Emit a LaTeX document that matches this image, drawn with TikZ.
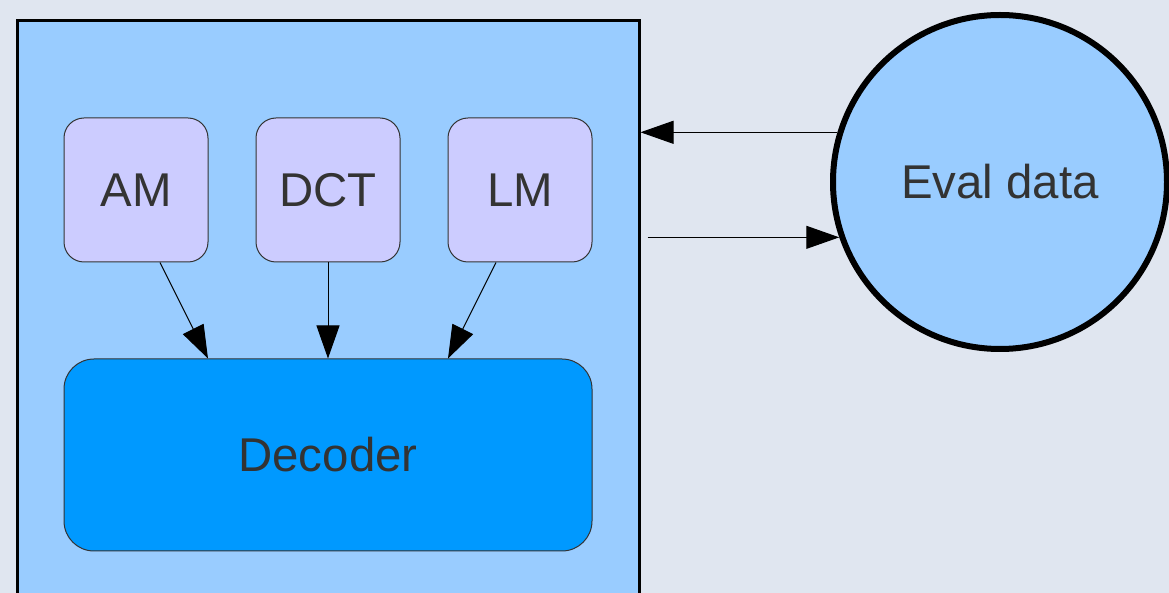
\documentclass[tikz,border=0pt]{standalone}
\usepackage{fontspec}
\setmainfont{Liberation Sans}
\usetikzlibrary{arrows.meta,calc,positioning}

\definecolor{canvas}{RGB}{224,230,240}
\definecolor{sysfill}{RGB}{153,204,255}
\definecolor{modfill}{RGB}{204,204,255}
\definecolor{decfill}{RGB}{0,153,255}
\definecolor{labelgrey}{RGB}{51,51,51}

\begin{document}
\begin{tikzpicture}[
                    x=0.5pt,
                    y=-0.5pt,
                    >={Triangle[length=16.5pt,width=11.5pt]},
                    font=\fontsize{23.7}{28}\selectfont,
                    text=labelgrey
                ]
                \tikzstyle{module}=[
                    draw=black!80,
                    line width=0.5pt,
                    fill=modfill,
                    rounded corners=10pt,
                    minimum width=72pt,
                    minimum height=72pt,
                    inner sep=0pt
                ]
                \tikzstyle{link}=[
                    ->,
                    line width=0.5pt,
                    draw=black
                ]

                % page and its background
                \fill[canvas] (0,0) rectangle (1169,593);
                \useasboundingbox (0,0) rectangle (1169,593);
                \clip (0,0) rectangle (1169,593);

                % the recogniser box, running off the bottom
                \node[draw=black, line width=1.5pt, fill=sysfill,
                      minimum width=311pt, minimum height=339.5pt,
                      inner sep=0pt] (system) at (328,360.5) {};

                \node[module] (AM) at (136,190) {AM};
                \node[module, right=23.5pt of AM] (DCT) {DCT};
                \node[module, right=23.5pt of DCT] (LM) {LM};

                \node[draw=black!80, line width=0.5pt, fill=decfill,
                      rounded corners=15pt, minimum width=264pt,
                      minimum height=96pt, below=48pt of DCT] (Decoder) {Decoder};

                \node[circle, draw=black, line width=3pt, fill=sysfill,
                      minimum size=167pt, inner sep=0pt] (Eval) at (1000,182) {Eval data};

                \coordinate (back) at ($(system.east |- Eval.199)+(7,0)$);

                \path
                ($(AM.south)+(24,0)$) edge [link] ($(Decoder.north)+(-120,0)$)
                (DCT.south) edge [link] (Decoder.north)
                ($(LM.south)+(-24,0)$) edge [link] ($(Decoder.north)+(120,0)$)
                (Eval.163) edge [link] (system.east |- Eval.163)
                (back) edge [link] (Eval.199)
                ;
            \end{tikzpicture}
\end{document}
